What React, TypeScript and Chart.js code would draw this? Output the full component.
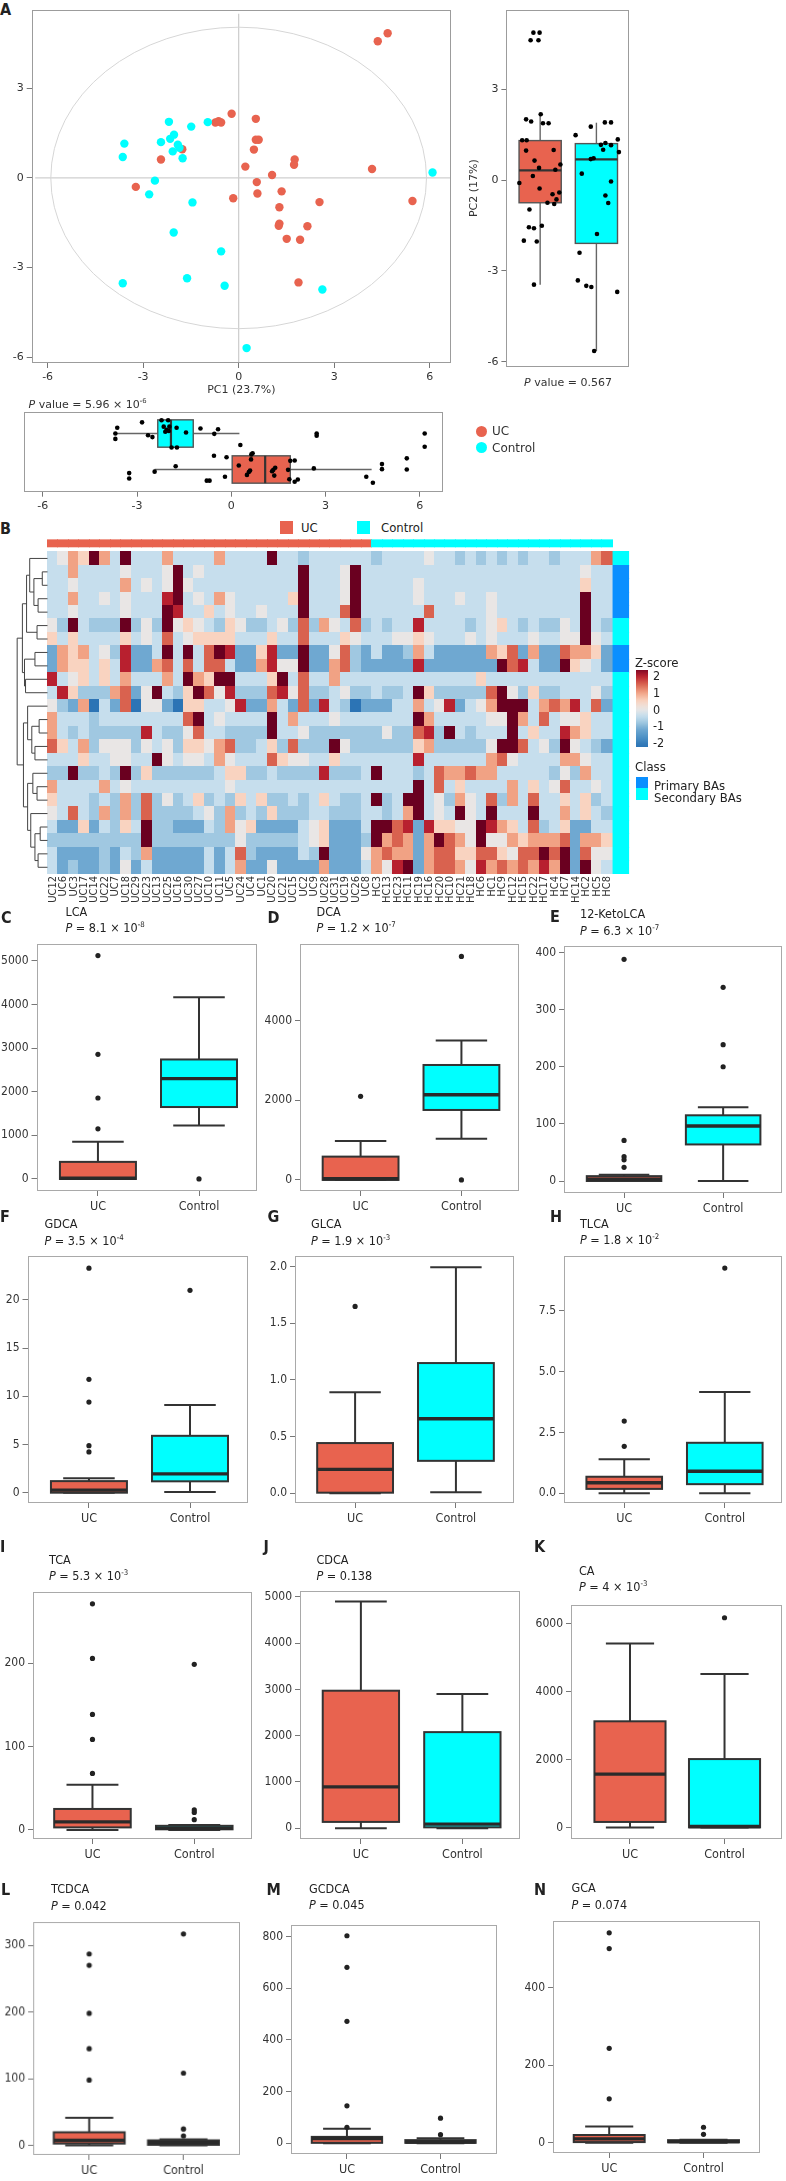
import React, { useEffect, useRef } from 'react';
import { Chart, registerables } from 'chart.js';
Chart.register(...registerables);

// ---------------- data ----------------
const GROUPS = ['UC', 'Control'];
const PC1_TICKS = [-6, -3, 0, 3, 6];
const PC2_TICKS = [-6, -3, 0, 3];

// PCA scores [PC1, PC2]
const PCA_UC = [[4.68,4.85],[4.37,4.58],[-0.22,2.15],[0.54,1.98],[-0.73,1.86],[-0.63,1.9],[-0.55,1.86],[0.54,1.28],[0.63,1.28],[0.48,0.95],[-1.77,0.96],[-2.44,0.62],[1.76,0.62],[1.74,0.44],[0.21,0.38],[4.19,0.3],[1.05,0.1],[0.57,-0.14],[-3.23,-0.3],[1.35,-0.45],[0.59,-0.52],[-0.17,-0.68],[2.54,-0.81],[5.46,-0.77],[1.28,-0.98],[1.28,-1.53],[1.26,-1.6],[2.16,-1.62],[1.51,-2.04],[1.93,-2.07],[1.88,-3.5]];
const PCA_CONTROL = [[-2.19,1.88],[-1.49,1.72],[-0.97,1.87],[-3.59,1.15],[-3.64,0.7],[-2.44,1.2],[-2.15,1.31],[-2.03,1.45],[-1.91,1.11],[-1.86,1.01],[-2.07,0.89],[-1.76,0.66],[-2.63,-0.09],[-2.81,-0.55],[-1.45,-0.82],[-2.04,-1.83],[-0.55,-2.46],[-3.64,-3.53],[-1.62,-3.36],[-0.44,-3.61],[2.63,-3.74],[0.25,-5.7],[6.09,0.18]];

// box stats: [lower whisker, q1, median, q3, upper whisker]
const PC2_BOX_UC = [-3.45, -0.75, 0.32, 1.3, 2.2];
const PC2_BOX_CONTROL = [-5.64, -2.09, 0.68, 1.2, 1.89];
const PC1_BOX_UC = [-2.44, 0.03, 1.08, 1.88, 4.47];
const PC1_BOX_CONTROL = [-3.7, -2.34, -1.92, -1.21, 0.26];

// jittered points on the PC2 box panel: [offset from group, PC2]
const PC2_UC_JITTER = [[-0.17,4.61],[-0.03,4.61],[-0.12,4.86],[-0.01,4.86],[-0.25,2.0],[-0.16,1.93],[0.01,2.17],[0.05,1.87],[0.15,1.87],[-0.32,1.31],[-0.24,1.31],[-0.25,0.97],[0.24,0.99],[-0.1,0.64],[-0.02,0.4],[-0.13,0.13],[0.27,0.34],[0.36,0.51],[-0.37,-0.1],[-0.01,-0.28],[0.22,-0.47],[0.34,-0.41],[0.29,-0.64],[0.13,-0.75],[0.25,-0.79],[-0.19,-0.97],[-0.2,-1.56],[-0.11,-1.59],[0.03,-1.51],[-0.29,-2.0],[-0.06,-2.03],[-0.11,-3.45]];
const PC2_CONTROL_JITTER = [[-0.37,1.48],[-0.1,1.76],[0.15,1.9],[0.26,1.9],[0.08,1.16],[0.16,1.22],[0.26,1.15],[0.38,1.34],[0.12,1.0],[0.4,0.92],[-0.1,0.69],[-0.05,0.72],[-0.26,0.21],[0.26,-0.05],[0.16,-0.51],[0.21,-0.76],[0.01,-1.78],[-0.3,-2.4],[-0.33,-3.31],[-0.18,-3.49],[-0.09,-3.53],[0.37,-3.69],[-0.04,-5.64]];
// jittered points on the PC1 box panel: [PC1, group position]
const PC1_CONTROL_JITTER = [[-3.63,2.16],[-3.69,2.0],[-3.69,1.85],[-2.84,2.31],[-2.65,1.95],[-2.51,1.9],[-2.22,2.37],[-2.01,2.37],[-2.15,2.19],[-2.06,2.1],[-1.99,2.07],[-2.1,2.05],[-1.97,2.19],[-1.74,2.16],[-1.9,1.61],[-1.73,1.61],[-1.44,2.03],[-0.98,2.14],[-0.54,1.99],[-0.42,2.12],[2.72,2.0],[2.72,1.94],[6.16,2.0]];
const PC1_UC_JITTER = [[0.29,1.68],[-0.55,1.38],[-0.15,1.34],[0.64,1.42],[0.68,1.45],[0.24,1.11],[0.63,1.28],[0.56,0.93],[0.5,0.85],[0.6,0.97],[1.34,0.99],[1.4,1.05],[1.3,0.95],[1.37,0.83],[1.88,1.24],[2.02,1.25],[1.81,0.99],[1.85,0.73],[2.02,0.66],[2.12,0.72],[2.63,1.03],[-0.69,0.69],[-0.78,0.69],[-0.2,0.8],[-1.77,1.09],[-2.44,0.94],[-3.25,0.9],[-3.25,0.75],[4.3,0.8],[4.51,0.63],[4.8,1.15],[4.8,1.01],[5.59,1.31],[5.59,1.0],[6.16,1.63]];

// heatmap
const HEAT_COLS = ['UC12','UC6','UC3','UC17','UC14','UC22','UC7','UC18','UC29','UC23','UC13','UC25','UC16','UC30','UC27','UC10','UC11','UC5','UC24','UC4','UC1','UC20','UC21','UC15','UC2','UC9','UC28','UC31','UC19','UC26','UC8','HC3','HC13','HC23','HC11','HC19','HC16','HC20','HC10','HC21','HC18','HC6','HC1','HC9','HC12','HC15','HC22','HC17','HC4','HC7','HC14','HC2','HC5','HC8'];
const ROW_CLASS = ['S','P','P','P','P','S','S','P','P','S','S','S','S','S','S','S','S','S','S','S','S','S','S','S'];
const Z_LEVEL: Record<string, number> = { D: -2.2, d: -1.6, m: -1.2, b: -0.8, l: -0.4, w: 0, p: 0.5, s: 1, r: 1.5, R: 2, M: 2.5 };
const HEAT_ROWS = [
  'lwspMslMll'+'lsllllslll'+'lMllblllll'+'lbllllwllb'+'lblblbllbl'+'llsr',
  'llsllllwll'+'lwMlwlllll'+'llllMlllwM'+'llllllllll'+'llllllllll'+'lwll',
  'llwllllslw'+'lwMwllllll'+'llllMlllwM'+'lllllwllll'+'llllllllll'+'lpll',
  'llsllwlwll'+'lRMlwlswll'+'lllpMlllwM'+'lllllwlllw'+'llwlllllll'+'lMll',
  'llwllllwll'+'lMRllplwll'+'wlllMlllrM'+'llllllrlll'+'llwlllllll'+'lMll',
  'wbMlbbbMbw'+'bMwpwlbpwb'+'blwbrbswlr'+'blbllRllll'+'blwplblbbw'+'lMlb',
  'plpllllplw'+'lrlwppppll'+'lpllrlllpw'+'lllwwpwlll'+'wlwlllwllw'+'wMwl',
  'mspslwbRmm'+'lMlMlrMRmm'+'pRmmMmmwrb'+'mlmmbslmmm'+'mmsprmsmmr'+'sspm',
  'mspplplRmm'+'srlrlrrlmm'+'sRwwMmmsrb'+'mmmmmRmmmm'+'mmmMrRlmmM'+'pwlm',
  'Rlwplplsll'+'lslMspMMll'+'lpMlrllsll'+'llllllllll'+'lpllllllll'+'llll',
  'lRpbbbsrmw'+'MlbpMrwRbb'+'brRwrbblwb'+'blbblMpbbb'+'bbrMwbpbbl'+'llwb',
  'wbmsDlmrDw'+'wmDppllwRm'+'mslmrmRlbD'+'mmmllslwRm'+'lwsMMMlsrs'+'Rlrm',
  'slllblllll'+'lllrMlwlll'+'lMlslllwll'+'lllllMslll'+'llwwMslrlw'+'wpll',
  'slblbbbbbR'+'lbbwrllbbb'+'bMllwbbbbb'+'bbwbbrRbMl'+'blllMlpllR'+'spll',
  'rplsbwwwbw'+'lwbppwsrbb'+'lpbrbbbMwb'+'bbbbbpsbbb'+'bbwMMrlwbM'+'wlbm',
  'lllpllwwll'+'Mwlwwlswll'+'lrpwwllpll'+'lllllRllll'+'llsrwlllls'+'swll',
  'bbMbblbMbp'+'bbbbbblppb'+'blbbbbRbbb'+'lMlllblrss'+'rsslllllbw'+'bsll',
  'sllllslwll'+'lllllllwll'+'llllllllll'+'lllllMlrlp'+'llllslplwr'+'llwl',
  'plllblbsbr'+'bwblpblbpl'+'pbblblplbb'+'lMblMMlwbs'+'wlrbslrllp'+'lpbl',
  'wlrlbsbsbr'+'bbbblwbsbl'+'bpbbbllbbb'+'llblsMlwlM'+'wlMlllMlls'+'lplb',
  'lmmpmlbplM'+'bbmmmlbswp'+'mmmmlwpmmm'+'lMMrRmRppw'+'wMRsplrblp'+'mmll',
  'bbbbbbbbbM'+'bbbbbbbbwb'+'bbbblwpmmm'+'bMsrsmsMrs'+'wMwwspsssr'+'mssp',
  'lmmmmbmlbs'+'mmmmmlmlrb'+'mmmmlbMmmm'+'wsrssmsrrp'+'prrpwrrMrM'+'mrww',
  'lmbmmbmwml'+'mmmmmlmlsm'+'mwmmmmsmmm'+'lswRMmsrrs'+'wRsrsrsRsM'+'mMwl',
];
// dendrogram: [left, right, height]; leaves are row indices
const DENDRO: any = [
  [
    [[0, [[1, 2, 0.5], [3, 4, 0.9], 1.3], 1.7], [5, 6, 1.0], 2.0],
    [[7, 8, 1.2], [9, 10, 2.1], 2.2],
    2.4,
  ],
  [
    [11, [[12, 13, 0.8], [14, 15, 1.2], 1.5], 1.9],
    [[16, [17, 18, 1.0], 1.4], [19, [[20, 21, 0.7], [22, 23, 0.9], 1.2], 1.6], 1.9],
    2.3,
  ],
  2.9,
];
const Z_LEGEND_TICKS = [2, 1, 0, -1, -2];

// box panels C-N: [lower whisker, q1, median, q3, upper whisker], outliers, ticks
const LCA_UC = [0, 0, 15, 392, 853]; const LCA_UC_OUT = [5125, 2860, 1857, 1150];
const LCA_CTRL = [1226, 1650, 2302, 2741, 4167]; const LCA_CTRL_OUT = [0];
const LCA_TICKS = [0, 1000, 2000, 3000, 4000, 5000];
const DCA_UC = [0, 0, 30, 585, 976]; const DCA_UC_OUT = [2098];
const DCA_CTRL = [1032, 1756, 2137, 2885, 3502]; const DCA_CTRL_OUT = [5610, 0];
const DCA_TICKS = [0, 2000, 4000];
const KETO_UC = [0, 0, 3, 8.5, 11]; const KETO_UC_OUT = [388, 71, 42.5, 37, 24];
const KETO_CTRL = [0, 64, 96.4, 115, 129]; const KETO_CTRL_OUT = [339, 238.6, 200];
const KETO_TICKS = [0, 100, 200, 300, 400];
const GDCA_UC = [0, 0, 0.27, 1.2, 1.5]; const GDCA_UC_OUT = [23.3, 11.76, 9.4, 4.88, 4.23];
const GDCA_CTRL = [0.07, 1.18, 1.95, 5.9, 9.1]; const GDCA_CTRL_OUT = [21.0];
const GDCA_TICKS = [0, 5, 10, 15, 20];
const GLCA_UC = [0, 0.005, 0.211, 0.443, 0.892]; const GLCA_UC_OUT = [1.649];
const GLCA_CTRL = [0.009, 0.286, 0.657, 1.149, 1.995]; const GLCA_CTRL_OUT: number[] = [];
const GLCA_TICKS = [0, 0.5, 1.0, 1.5, 2.0];
const TLCA_UC = [0, 0.18, 0.43, 0.68, 1.4]; const TLCA_UC_OUT = [2.97, 1.93];
const TLCA_CTRL = [0, 0.375, 0.906, 2.076, 4.17]; const TLCA_CTRL_OUT = [9.26];
const TLCA_TICKS = [0, 2.5, 5.0, 7.5];
const TCA_UC = [0, 3.1, 9.7, 25.2, 54.3]; const TCA_UC_OUT = [271, 205.5, 138.4, 108.5, 67.8];
const TCA_CTRL = [0, 0.8, 2, 5, 6]; const TCA_CTRL_OUT = [198.5, 24, 21, 12.4];
const TCA_TICKS = [0, 100, 200];
const CDCA_UC = [0, 138, 894, 2971, 4895]; const CDCA_UC_OUT: number[] = [];
const CDCA_CTRL = [0, 21, 90, 2077, 2902]; const CDCA_CTRL_OUT: number[] = [];
const CDCA_TICKS = [0, 1000, 2000, 3000, 4000, 5000];
const CA_UC = [0, 160, 1567, 3123, 5413]; const CA_UC_OUT: number[] = [];
const CA_CTRL = [0, 0, 25, 2011, 4519]; const CA_CTRL_OUT = [6171];
const CA_TICKS = [0, 2000, 4000, 6000];
const TCDCA_UC = [0, 2.9, 7.7, 19.8, 41.6]; const TCDCA_UC_OUT = [287, 270, 198, 145, 98];
const TCDCA_CTRL = [0, 1, 4.4, 7.7, 9.2]; const TCDCA_CTRL_OUT = [316.9, 108.4, 24.7, 14.5];
const TCDCA_TICKS = [0, 100, 200, 300];
const GCDCA_UC = [0, 2, 18.7, 25, 56]; const GCDCA_UC_OUT = [803, 681, 472, 145, 62];
const GCDCA_CTRL = [0, 2, 5, 12.5, 20]; const GCDCA_CTRL_OUT = [97.5, 33.7];
const GCDCA_TICKS = [0, 200, 400, 600, 800];
const GCA_UC = [0, 1.7, 10, 20, 41.7]; const GCA_UC_OUT = [542.5, 501.8, 244, 113.4];
const GCA_CTRL = [0, 1, 3, 6.7, 8]; const GCA_CTRL_OUT = [40, 21.7];
const GCA_TICKS = [0, 200, 400];

// ---------------- styles / layout ----------------
const RED = '#E8634F';
const CYAN = '#00FFFF';
const PRIMARY = '#0A8FFF';
const NARROW = "'Liberation Sans Narrow', 'DejaVu Sans Condensed', 'Arial Narrow', sans-serif";
const DEJAVU = "'DejaVu Sans', Verdana, sans-serif";
const TICK_COLOR = '#333';

const PANELS: any[] = [
  { L: 'C', name: 'LCA', p: ['8.1', '-8'], uc: LCA_UC, ucOut: LCA_UC_OUT, ct: LCA_CTRL, ctOut: LCA_CTRL_OUT, ticks: LCA_TICKS, dec: 0, frame: [36.5, 936.7, 257, 1190.7], y: [-276, 5385], x: [0.392, 2.564], lxy: [6, 918], txy: [65.5, 911.7], py: 928.3 },
  { L: 'D', name: 'DCA', p: ['1.2', '-7'], uc: DCA_UC, ucOut: DCA_UC_OUT, ct: DCA_CTRL, ctOut: DCA_CTRL_OUT, ticks: DCA_TICKS, dec: 0, frame: [299.5, 936.7, 520, 1190.7], y: [-278, 5917], x: [0.399, 2.571], lxy: [272.5, 918], txy: [316.5, 911.7], py: 928 },
  { L: 'E', name: '12-KetoLCA', p: ['6.3', '-7'], uc: KETO_UC, ucOut: KETO_UC_OUT, ct: KETO_CTRL, ctOut: KETO_CTRL_OUT, ticks: KETO_TICKS, dec: 0, frame: [563.5, 939.3, 783.5, 1193.3], y: [-21, 411], x: [0.394, 2.594], lxy: [555, 917.3], txy: [580, 914.3], py: 930.7 },
  { L: 'F', name: 'GDCA', p: ['3.5', '-4'], uc: GDCA_UC, ucOut: GDCA_UC_OUT, ct: GDCA_CTRL, ctOut: GDCA_CTRL_OUT, ticks: GDCA_TICKS, dec: 0, frame: [27.5, 1249.3, 248, 1503.3], y: [-1.07, 24.54], x: [0.392, 2.564], lxy: [5, 1216.7], txy: [44.5, 1224.3], py: 1241 },
  { L: 'G', name: 'GLCA', p: ['1.9', '-3'], uc: GLCA_UC, ucOut: GLCA_UC_OUT, ct: GLCA_CTRL, ctOut: GLCA_CTRL_OUT, ticks: GLCA_TICKS, dec: 1, frame: [294.5, 1249.3, 515, 1503.3], y: [-0.086, 2.092], x: [0.404, 2.576], lxy: [272.5, 1217], txy: [311, 1224], py: 1241 },
  { L: 'H', name: 'TLCA', p: ['1.8', '-2'], uc: TLCA_UC, ucOut: TLCA_UC_OUT, ct: TLCA_CTRL, ctOut: TLCA_CTRL_OUT, ticks: TLCA_TICKS, dec: 1, frame: [563.5, 1248.7, 783.5, 1502.7], y: [-0.4, 9.75], x: [0.401, 2.569], lxy: [555, 1217.3], txy: [580, 1223.7], py: 1240 },
  { L: 'I', name: 'TCA', p: ['5.3', '-3'], uc: TCA_UC, ucOut: TCA_UC_OUT, ct: TCA_CTRL, ctOut: TCA_CTRL_OUT, ticks: TCA_TICKS, dec: 0, frame: [33, 1585, 253, 1839.3], y: [-10.8, 284.9], x: [0.416, 2.567], lxy: [5, 1546.7], txy: [49, 1560], py: 1576 },
  { L: 'J', name: 'CDCA', p: ['0.138'], uc: CDCA_UC, ucOut: CDCA_UC_OUT, ct: CDCA_CTRL, ctOut: CDCA_CTRL_OUT, ticks: CDCA_TICKS, dec: 0, frame: [299.5, 1584.3, 520, 1839.3], y: [-231, 5120], x: [0.4, 2.568], lxy: [268.5, 1546.7], txy: [316.5, 1560], py: 1576 },
  { L: 'K', name: 'CA', p: ['4', '-3'], uc: CA_UC, ucOut: CA_UC_OUT, ct: CA_CTRL, ctOut: CA_CTRL_OUT, ticks: CA_TICKS, dec: 0, frame: [570.5, 1597.7, 782.5, 1839.3], y: [-342, 6541], x: [0.376, 2.608], lxy: [539, 1546.7], txy: [579, 1571], py: 1587.3 },
  { L: 'L', name: 'TCDCA', p: ['0.042'], uc: TCDCA_UC, ucOut: TCDCA_UC_OUT, ct: TCDCA_CTRL, ctOut: TCDCA_CTRL_OUT, ticks: TCDCA_TICKS, dec: 0, frame: [33, 1915.3, 240.5, 2155], y: [-14.1, 334.4], x: [0.405, 2.6], lxy: [6, 1890], txy: [51, 1889.3], py: 1906 },
  { L: 'M', name: 'GCDCA', p: ['0.045'], uc: GCDCA_UC, ucOut: GCDCA_UC_OUT, ct: GCDCA_CTRL, ctOut: GCDCA_CTRL_OUT, ticks: GCDCA_TICKS, dec: 0, frame: [291, 1918.3, 498, 2154.3], y: [-41.2, 843.9], x: [0.402, 2.604], lxy: [271.5, 1890], txy: [309, 1888.7], py: 1905.3 },
  { L: 'N', name: 'GCA', p: ['0.074'], uc: GCA_UC, ucOut: GCA_UC_OUT, ct: GCA_CTRL, ctOut: GCA_CTRL_OUT, ticks: GCA_TICKS, dec: 0, frame: [553, 1913.7, 761, 2153.3], y: [-26.5, 572.5], x: [0.404, 2.599], lxy: [539, 1890], txy: [571.5, 1888.3], py: 1905 },
];

// ---------------- helpers ----------------
const Z_STOPS: [number, string][] = [[-2.2,'#2C74B5'],[-1.6,'#5296C8'],[-1.2,'#6FA8D1'],[-0.8,'#A0C8E1'],[-0.4,'#C6DEED'],[0,'#E9E6E5'],[0.5,'#F9D3C0'],[1,'#F1A284'],[1.5,'#D9624F'],[2,'#B8202F'],[2.5,'#6A0020']];
function hex(c: string) { return [1, 3, 5].map((i) => parseInt(c.slice(i, i + 2), 16)); }
function zColor(z: number) {
  if (z <= Z_STOPS[0][0]) return Z_STOPS[0][1];
  for (let i = 1; i < Z_STOPS.length; i++) {
    const [z1, c1] = Z_STOPS[i];
    if (z <= z1) {
      const [z0, c0] = Z_STOPS[i - 1];
      const t = (z - z0) / (z1 - z0);
      const a = hex(c0), b = hex(c1);
      return `rgb(${a.map((v, k) => Math.round(v + (b[k] - v) * t)).join(',')})`;
    }
  }
  return Z_STOPS[Z_STOPS.length - 1][1];
}

const framePlugin = {
  id: 'frame',
  afterDatasetsDraw(chart: any, _a: any, o: any) {
    if (!o || !o.color) return;
    const { ctx, chartArea: a } = chart;
    ctx.save();
    ctx.strokeStyle = o.color;
    ctx.lineWidth = 1;
    ctx.strokeRect(Math.round(a.left) + 0.5, Math.round(a.top) + 0.5, Math.round(a.right - a.left) - 1, Math.round(a.bottom - a.top) - 1);
    ctx.restore();
  },
};

const boxPlugin = {
  id: 'boxes',
  beforeDatasetsDraw(chart: any, _a: any, o: any) {
    if (!o || !o.items) return;
    const { ctx } = chart;
    const hz = !!o.horizontal;
    const catS = hz ? chart.scales.y : chart.scales.x;
    const valS = hz ? chart.scales.x : chart.scales.y;
    const P = (v: number) => valS.getPixelForValue(v);
    const seg = (a1: number, b1: number, a2: number, b2: number) => {
      ctx.beginPath();
      if (hz) { ctx.moveTo(b1, a1); ctx.lineTo(b2, a2); } else { ctx.moveTo(a1, b1); ctx.lineTo(a2, b2); }
      ctx.stroke();
    };
    ctx.save();
    for (const it of o.items) {
      const [lo, q1, med, q3, hi] = it.stats;
      const c = catS.getPixelForValue(it.pos);
      const hw = Math.abs(catS.getPixelForValue(it.pos + o.halfWidth) - c);
      const cw = o.capHalf ? Math.abs(catS.getPixelForValue(it.pos + o.capHalf) - c) : 0;
      ctx.strokeStyle = o.whisker;
      ctx.lineWidth = o.lineWidth;
      seg(c, P(q3), c, P(hi));
      seg(c, P(q1), c, P(lo));
      if (cw) { seg(c - cw, P(hi), c + cw, P(hi)); seg(c - cw, P(lo), c + cw, P(lo)); }
      const v1 = P(q1), v3 = P(q3);
      ctx.fillStyle = it.fill;
      ctx.strokeStyle = o.stroke;
      if (hz) {
        ctx.fillRect(Math.min(v1, v3), c - hw, Math.abs(v3 - v1), 2 * hw);
        ctx.strokeRect(Math.min(v1, v3), c - hw, Math.abs(v3 - v1), 2 * hw);
      } else {
        ctx.fillRect(c - hw, Math.min(v1, v3), 2 * hw, Math.abs(v3 - v1));
        ctx.strokeRect(c - hw, Math.min(v1, v3), 2 * hw, Math.abs(v3 - v1));
      }
      ctx.lineWidth = o.medianWidth;
      ctx.strokeStyle = o.median;
      seg(c - hw, P(med), c + hw, P(med));
    }
    ctx.restore();
  },
};

const pcaGuides = {
  id: 'pcaGuides',
  beforeDatasetsDraw(chart: any, _a: any, o: any) {
    const { ctx, chartArea: a } = chart;
    const xs = chart.scales.x, ys = chart.scales.y;
    const x0 = xs.getPixelForValue(0), y0 = ys.getPixelForValue(0);
    ctx.save();
    ctx.strokeStyle = '#cfcfcf';
    ctx.lineWidth = 1.3;
    ctx.beginPath();
    ctx.moveTo(x0, ys.getPixelForValue(o.vTop));
    ctx.lineTo(x0, a.bottom);
    ctx.moveTo(xs.getPixelForValue(o.hLeft), y0);
    ctx.lineTo(a.right, y0);
    ctx.stroke();
    ctx.lineWidth = 1;
    ctx.strokeStyle = '#d6d6d6';
    ctx.beginPath();
    ctx.ellipse(x0, y0, Math.abs(xs.getPixelForValue(o.rx) - x0), Math.abs(ys.getPixelForValue(o.ry) - y0), 0, 0, Math.PI * 2);
    ctx.stroke();
    ctx.restore();
  },
};

function drawNode(node: any, ctx: any, X: (v: number) => number, Y: (v: number) => number): { y: number; h: number } {
  if (typeof node === 'number') return { y: node + 0.5, h: 0 };
  const a = drawNode(node[0], ctx, X, Y);
  const b = drawNode(node[1], ctx, X, Y);
  const h = node[2];
  ctx.beginPath();
  ctx.moveTo(X(a.h), Y(a.y));
  ctx.lineTo(X(h), Y(a.y));
  ctx.lineTo(X(h), Y(b.y));
  ctx.lineTo(X(b.h), Y(b.y));
  ctx.stroke();
  return { y: (a.y + b.y) / 2, h };
}

const heatPlugin = {
  id: 'heat',
  beforeDatasetsDraw(chart: any) {
    const { ctx } = chart;
    const xs = chart.scales.x, ys = chart.scales.y;
    const X = (v: number) => xs.getPixelForValue(v);
    const Y = (v: number) => ys.getPixelForValue(v);
    ctx.save();
    HEAT_ROWS.forEach((row, r) => {
      for (let c = 0; c < HEAT_COLS.length; c++) {
        const z = Z_LEVEL[row[c]] ?? -0.4;
        ctx.fillStyle = zColor(z);
        const x0 = Math.floor(X(c)), x1 = Math.ceil(X(c + 1));
        const y0 = Math.floor(Y(r)), y1 = Math.ceil(Y(r + 1));
        ctx.fillRect(x0, y0, x1 - x0, y1 - y0);
      }
      ctx.fillStyle = ROW_CLASS[r] === 'P' ? PRIMARY : CYAN;
      const cy0 = Math.floor(Y(r)), cy1 = Math.ceil(Y(r + 1));
      ctx.fillRect(X(HEAT_COLS.length + 0.02), cy0, X(HEAT_COLS.length + 1.6) - X(HEAT_COLS.length + 0.02), cy1 - cy0);
    });
    // group annotation bar
    HEAT_COLS.forEach((name, c) => {
      ctx.fillStyle = name.startsWith('UC') ? RED : CYAN;
      const x0 = Math.floor(X(c)), x1 = Math.ceil(X(c + 1));
      ctx.fillRect(x0, Y(-0.92), x1 - x0, Y(-0.33) - Y(-0.92));
    });
    // dendrogram
    ctx.strokeStyle = '#444';
    ctx.lineWidth = 1;
    drawNode(DENDRO, ctx, (h) => X(-h), Y);
    ctx.restore();
  },
};

function tickAxis(values: number[], fmt: (v: number) => string, font: any, extra: any = {}) {
  return {
    type: 'linear',
    afterBuildTicks: (ax: any) => { ax.ticks = values.map((v) => ({ value: v })); },
    ticks: { callback: (v: number) => fmt(v), font, color: TICK_COLOR, padding: 3, autoSkip: false, maxRotation: 0, minRotation: 0 },
    grid: { display: true, drawOnChartArea: false, drawTicks: true, tickLength: 5, color: '#777' },
    border: { display: false },
    ...extra,
  };
}

function ChartCanvas({ x, y, w, h, make }: any) {
  const ref = useRef<HTMLCanvasElement>(null);
  useEffect(() => {
    const chart = new Chart(ref.current as HTMLCanvasElement, make());
    return () => chart.destroy();
  }, []);
  return (
    <div style={{ position: 'absolute', left: x, top: y, width: w, height: h }}>
      <canvas ref={ref} width={w} height={h} style={{ width: w, height: h, display: 'block' }} />
    </div>
  );
}

function Txt({ x, y, children, size = 12, font = NARROW, bold = false, color = '#222', center = false, rotate = false }: any) {
  return (
    <div style={{ position: 'absolute', left: x, top: y, transform: `translate(${center ? '-50%' : '0'}, -50%)${rotate ? ' rotate(-90deg)' : ''}`, fontFamily: font, fontSize: size, fontWeight: bold ? 700 : 400, color, whiteSpace: 'nowrap', lineHeight: 1 }}>
      {children}
    </div>
  );
}

const SUP = { fontSize: '0.62em', verticalAlign: '0.6em' };

// ---------------- charts ----------------
const SC = { x: 0, y: 0, w: 460, h: 400, l: 31.7, t: 1.7, r: 451, b: 363 };
const scatterConfig = () => ({
  type: 'scatter',
  data: {
    datasets: [
      { label: 'Control', data: PCA_CONTROL.map(([x, y]) => ({ x, y })), backgroundColor: CYAN, borderWidth: 0, pointRadius: 4.2, order: 0 },
      { label: 'UC', data: PCA_UC.map(([x, y]) => ({ x, y })), backgroundColor: RED, borderWidth: 0, pointRadius: 4.2, order: 1 },
    ],
  },
  options: {
    responsive: false, animation: false, events: [],
    layout: { padding: { left: 0, top: SC.t - SC.y, right: SC.x + SC.w - SC.r, bottom: 0 } },
    plugins: { legend: { display: false }, tooltip: { enabled: false }, frame: { color: '#9c9c9c' }, pcaGuides: { rx: 5.9, ry: 5.05, vTop: 5.5, hLeft: -6.39 } },
    scales: {
      x: tickAxis(PC1_TICKS, (v) => String(v), { family: DEJAVU, size: 11 }, {
        min: -6.5, max: 6.67,
        title: { display: true, text: 'PC1 (23.7%)', font: { family: DEJAVU, size: 11 }, color: TICK_COLOR, padding: { top: 0, bottom: 3.5 } },
        afterFit: (ax: any) => { ax.height = SC.y + SC.h - SC.b; },
      }),
      y: tickAxis([-6, -3, 0, 3], (v) => String(v), { family: DEJAVU, size: 11 }, {
        min: -6.2, max: 5.64,
        afterFit: (ax: any) => { ax.width = SC.l - SC.x; },
      }),
    },
  },
  plugins: [pcaGuides, framePlugin],
});

const P2 = { x: 460, y: 0, w: 180, h: 400, l: 506.4, t: 1.8, r: 629.6, b: 366.8 };
const pc2Config = () => ({
  type: 'scatter',
  data: {
    datasets: [
      { data: PC2_UC_JITTER.map(([o, v]) => ({ x: 1 + o, y: v })), backgroundColor: '#000', borderWidth: 0, pointRadius: 2.3 },
      { data: PC2_CONTROL_JITTER.map(([o, v]) => ({ x: 2 + o, y: v })), backgroundColor: '#000', borderWidth: 0, pointRadius: 2.3 },
    ],
  },
  options: {
    responsive: false, animation: false, events: [],
    layout: { padding: { left: 0, top: P2.t - P2.y, right: P2.x + P2.w - P2.r, bottom: P2.y + P2.h - P2.b } },
    plugins: {
      legend: { display: false }, tooltip: { enabled: false }, frame: { color: '#9c9c9c' },
      boxes: { halfWidth: 0.375, stroke: '#555', whisker: '#666', median: '#333', lineWidth: 1.4, medianWidth: 2.2, items: [{ pos: 1, stats: PC2_BOX_UC, fill: RED }, { pos: 2, stats: PC2_BOX_CONTROL, fill: CYAN }] },
    },
    scales: {
      x: { type: 'linear', display: false, min: 0.4, max: 2.59 },
      y: tickAxis(PC2_TICKS, (v) => String(v), { family: DEJAVU, size: 11 }, {
        min: -6.16, max: 5.62,
        title: { display: true, text: 'PC2 (17%)', font: { family: DEJAVU, size: 11 }, color: TICK_COLOR, padding: { top: 7.4, bottom: 0 } },
        afterFit: (ax: any) => { ax.width = P2.l - P2.x; },
      }),
    },
  },
  plugins: [boxPlugin, framePlugin],
});

const P1 = { x: 0, y: 400, w: 460, h: 115, l: 24.3, t: 411.7, r: 442.9, b: 491.7 };
const pc1Config = () => ({
  type: 'scatter',
  data: {
    datasets: [
      { data: PC1_CONTROL_JITTER.map(([v, p]) => ({ x: v, y: p })), backgroundColor: '#000', borderWidth: 0, pointRadius: 2.3 },
      { data: PC1_UC_JITTER.map(([v, p]) => ({ x: v, y: p })), backgroundColor: '#000', borderWidth: 0, pointRadius: 2.3 },
    ],
  },
  options: {
    responsive: false, animation: false, events: [],
    layout: { padding: { left: P1.l - P1.x, top: P1.t - P1.y, right: P1.x + P1.w - P1.r, bottom: 0 } },
    plugins: {
      legend: { display: false }, tooltip: { enabled: false }, frame: { color: '#9c9c9c' },
      boxes: { horizontal: true, halfWidth: 0.38, stroke: '#555', whisker: '#666', median: '#333', lineWidth: 1.4, medianWidth: 2.2, items: [{ pos: 2, stats: PC1_BOX_CONTROL, fill: CYAN }, { pos: 1, stats: PC1_BOX_UC, fill: RED }] },
    },
    scales: {
      x: tickAxis(PC1_TICKS, (v) => String(v), { family: DEJAVU, size: 11 }, {
        min: -6.59, max: 6.74,
        afterFit: (ax: any) => { ax.height = P1.y + P1.h - P1.b; },
      }),
      y: { type: 'linear', display: false, min: 0.383, max: 2.606 },
    },
  },
  plugins: [boxPlugin, framePlugin],
});

const HM = { x: 0, y: 530, w: 640, h: 380, l: 8, t: 538.3, r: 629.3, b: 874 };
const heatConfig = () => ({
  type: 'scatter',
  data: { datasets: [{ data: [] as any[] }] },
  options: {
    responsive: false, animation: false, events: [],
    layout: { padding: { left: HM.l - HM.x, top: HM.t - HM.y, right: HM.x + HM.w - HM.r, bottom: 0 } },
    plugins: { legend: { display: false }, tooltip: { enabled: false } },
    scales: {
      x: {
        type: 'linear', min: -3.776, max: 55.62,
        afterBuildTicks: (ax: any) => { ax.ticks = HEAT_COLS.map((_, i) => ({ value: i + 0.5 })); },
        ticks: { callback: (_v: number, i: number) => HEAT_COLS[i], autoSkip: false, minRotation: 90, maxRotation: 90, padding: 2, font: { family: NARROW, size: 11 }, color: TICK_COLOR },
        grid: { display: false, drawTicks: false },
        border: { display: false },
        afterFit: (ax: any) => { ax.height = HM.y + HM.h - HM.b; },
      },
      y: { type: 'linear', display: false, min: -1, max: 24, reverse: true },
    },
  },
  plugins: [heatPlugin],
});

function boxPanel(p: any) {
  const [l, t, r, b] = p.frame;
  const yW = Math.min(40, l);
  const cx = l - yW, cy = t - 3;
  const cw = Math.min(786 - cx, r - cx + 3), ch = b - cy + 26;
  const fmt = (v: number) => (p.dec ? v.toFixed(p.dec) : String(v));
  const make = () => ({
    type: 'scatter',
    data: {
      datasets: [
        { data: p.ucOut.map((v: number) => ({ x: 1, y: v })), backgroundColor: '#222', borderWidth: 0, pointRadius: 2.6 },
        { data: p.ctOut.map((v: number) => ({ x: 2, y: v })), backgroundColor: '#222', borderWidth: 0, pointRadius: 2.6 },
      ],
    },
    options: {
      responsive: false, animation: false, events: [],
      layout: { padding: { left: 0, top: t - cy, right: cx + cw - r, bottom: 0 } },
      plugins: {
        legend: { display: false }, tooltip: { enabled: false }, frame: { color: '#a9a9a9' },
        boxes: { halfWidth: 0.376, capHalf: 0.255, stroke: '#333', whisker: '#333', median: '#2a2a2a', lineWidth: 2, medianWidth: 3.4, items: [{ pos: 1, stats: p.uc, fill: RED }, { pos: 2, stats: p.ct, fill: CYAN }] },
      },
      scales: {
        x: tickAxis([1, 2], (v) => GROUPS[v - 1], { family: NARROW, size: 12.5 }, {
          min: p.x[0], max: p.x[1],
          afterFit: (ax: any) => { ax.height = cy + ch - b; },
        }),
        y: tickAxis(p.ticks, fmt, { family: NARROW, size: 12 }, {
          min: p.y[0], max: p.y[1],
          afterFit: (ax: any) => { ax.width = yW; },
        }),
      },
    },
    plugins: [boxPlugin, framePlugin],
  });
  return { x: cx, y: cy, w: cw, h: ch, make };
}

function PText({ p }: any) {
  return p.length > 1 ? (
    <><i>P</i> = {p[0]} × 10<span style={SUP}>{p[1]}</span></>
  ) : (
    <><i>P</i> = {p[0]}</>
  );
}

export default function App() {
  const zGrad = `linear-gradient(to bottom, ${Array.from({ length: 24 }, (_, i) => zColor(2.35 - (i * 4.62) / 23)).join(', ')})`;
  return (
    <div style={{ position: 'absolute', left: 0, top: 0, width: 786, height: 2181, overflow: 'hidden', background: '#fff' }}>
      {/* Panel A */}
      <Txt x={0} y={10} size={16} bold font={"'DejaVu Sans Condensed', 'DejaVu Sans', sans-serif"}>A</Txt>
      <ChartCanvas x={SC.x} y={SC.y} w={SC.w} h={SC.h} make={scatterConfig} />
      <ChartCanvas x={P2.x} y={P2.y} w={P2.w} h={P2.h} make={pc2Config} />
      <Txt x={568} y={382} size={11} font={DEJAVU} color="#333" center><i>P</i> value = 0.567</Txt>
      <ChartCanvas x={P1.x} y={P1.y} w={P1.w} h={P1.h} make={pc1Config} />
      <Txt x={28.6} y={404} size={11} font={DEJAVU} color="#333"><i>P</i> value = 5.96 × 10<span style={SUP}>-6</span></Txt>
      <div style={{ position: 'absolute', left: 476, top: 425.5, width: 11, height: 11, borderRadius: '50%', background: RED }} />
      <div style={{ position: 'absolute', left: 476, top: 442, width: 11, height: 11, borderRadius: '50%', background: CYAN }} />
      <Txt x={492} y={431} size={12} font={DEJAVU} color="#333">{GROUPS[0]}</Txt>
      <Txt x={492} y={447.5} size={12} font={DEJAVU} color="#333">{GROUPS[1]}</Txt>

      {/* Panel B */}
      <Txt x={0} y={529} size={16} bold font={"'DejaVu Sans Condensed', 'DejaVu Sans', sans-serif"}>B</Txt>
      <div style={{ position: 'absolute', left: 280, top: 521, width: 12.5, height: 12.5, background: RED }} />
      <Txt x={301} y={527} size={13}>{GROUPS[0]}</Txt>
      <div style={{ position: 'absolute', left: 357, top: 521, width: 13, height: 12.5, background: CYAN }} />
      <Txt x={381} y={527} size={13}>{GROUPS[1]}</Txt>
      <ChartCanvas x={HM.x} y={HM.y} w={HM.w} h={HM.h} make={heatConfig} />
      <Txt x={635} y={662} size={13}>Z-score</Txt>
      <div style={{ position: 'absolute', left: 636, top: 670, width: 12, height: 77, background: zGrad }} />
      {Z_LEGEND_TICKS.map((v) => (
        <Txt key={v} x={653} y={709.5 - v * 16.7} size={12.5}>{String(v)}</Txt>
      ))}
      <Txt x={635} y={765.5} size={13}>Class</Txt>
      <div style={{ position: 'absolute', left: 636, top: 776.5, width: 12, height: 11.8, background: PRIMARY }} />
      <div style={{ position: 'absolute', left: 636, top: 788.3, width: 12, height: 11.7, background: CYAN }} />
      <Txt x={654} y={785} size={13}>Primary BAs</Txt>
      <Txt x={654} y={797} size={13}>Secondary BAs</Txt>

      {/* Panels C-N */}
      {PANELS.map((p) => {
        const g = boxPanel(p);
        return (
          <React.Fragment key={p.L}>
            <Txt x={p.lxy[0] - 5} y={p.lxy[1]} size={16} bold font={"'DejaVu Sans Condensed', 'DejaVu Sans', sans-serif"}>{p.L}</Txt>
            <Txt x={p.txy[0]} y={p.txy[1]} size={12.5}>{p.name}</Txt>
            <Txt x={p.txy[0]} y={p.py} size={12.5}><PText p={p.p} /></Txt>
            <ChartCanvas x={g.x} y={g.y} w={g.w} h={g.h} make={g.make} />
          </React.Fragment>
        );
      })}
    </div>
  );
}
